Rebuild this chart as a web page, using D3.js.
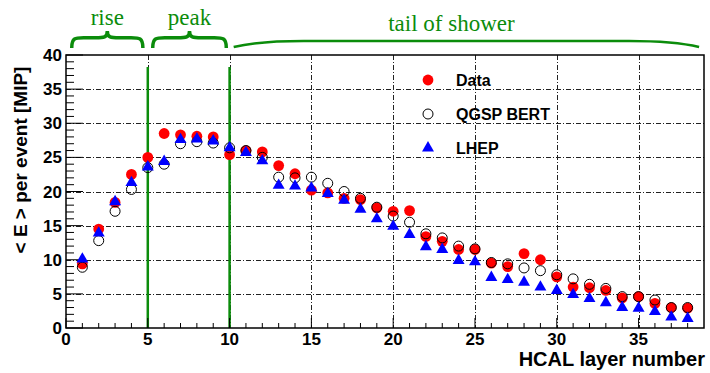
<!DOCTYPE html>
<html>
<head>
<meta charset="utf-8">
<script src="https://cdn.jsdelivr.net/npm/d3@7"></script>
<style>
  body { margin: 0; background: #fff; }
  text { font-family: "Liberation Sans", Arial, sans-serif; }
  text.serif { font-family: "Liberation Serif", "Times New Roman", serif; }
</style>
</head>
<body>
<div id="chart"></div>
<script>
// HCAL layer numbers 1..38
const layers = d3.range(1, 39)
const dataE = [9.4, 14.5, 18.4, 22.5, 25.0, 28.5, 28.3, 28.1, 28.0, 25.4,
  26.0, 25.8, 23.8, 22.6, 20.2, 19.8, 19.0, 18.8, 17.6, 17.1,
  17.2, 13.4, 12.7, 11.5, 11.5, 9.5, 9.0, 10.9, 10.0, 7.5,
  6.0, 5.9, 5.5, 4.4, 4.6, 3.6, 3.0, 2.9]
const qgspE = [8.9, 12.8, 17.1, 20.3, 23.5, 24.0, 27.0, 27.3, 27.1, 26.4,
  26.0, 25.0, 22.1, 22.0, 22.1, 21.2, 20.0, 19.0, 17.7, 16.4,
  15.5, 13.8, 13.2, 12.0, 11.6, 9.6, 9.4, 8.8, 8.4, 7.8,
  7.2, 6.4, 5.8, 4.6, 4.6, 4.1, 3.0, 3.0]
const lhepE = [10.1, 13.9, 18.5, 21.3, 23.6, 24.4, 27.6, 27.7, 27.4, 26.4,
  25.7, 24.5, 20.9, 20.8, 20.5, 19.7, 18.7, 17.4, 16.0, 14.9,
  13.7, 11.9, 11.5, 9.9, 9.7, 7.4, 7.1, 6.7, 6.0, 5.5,
  4.9, 4.3, 3.7, 3.0, 2.9, 2.4, 1.6, 1.4]
const xTicks = [0, 5, 10, 15, 20, 25, 30, 35]
const yTicks = [0, 5, 10, 15, 20, 25, 30, 35, 40]
const regionLabels = ["rise", "peak", "tail of shower"]
const regionFrom = [0.35, 5.3, 10.25]
const regionTo = [4.7, 9.8, 38.7]
const regionEdges = [5, 10]

const width = 710
const height = 373
const margin = { top: 55, left: 66, bottom: 45, right: 6 }
const iwidth = width - margin.left - margin.right
const iheight = height - margin.top - margin.bottom

const green = "#0b8c0b"

const svg = d3.select("#chart").append("svg")
  .attr("width", width)
  .attr("height", height)

const g = svg.append("g")
  .attr("transform", `translate(${margin.left}, ${margin.top})`)

const x = d3.scaleLinear().domain([0, 39]).range([0, iwidth])
const y = d3.scaleLinear().domain([0, 40]).range([iheight, 0])

// dash-dot grid
g.append("g")
  .selectAll("line")
  .data(xTicks.filter(d => d > 0))
  .join("line")
  .attr("x1", d => Math.round(x(d)) + 0.5)
  .attr("x2", d => Math.round(x(d)) + 0.5)
  .attr("y1", 0)
  .attr("y2", iheight)
  .attr("stroke", "#222")
  .attr("stroke-width", 1)
  .attr("stroke-dasharray", "5,2,1,2")
g.append("g")
  .selectAll("line")
  .data(yTicks.filter(d => d > 0 && d < 40))
  .join("line")
  .attr("y1", d => Math.round(y(d)) + 0.5)
  .attr("y2", d => Math.round(y(d)) + 0.5)
  .attr("x1", 0)
  .attr("x2", iwidth)
  .attr("stroke", "#222")
  .attr("stroke-width", 1)
  .attr("stroke-dasharray", "5,2,1,2")

// region separators
g.append("g")
  .selectAll("line")
  .data(regionEdges)
  .join("line")
  .attr("x1", d => x(d))
  .attr("x2", d => x(d))
  .attr("y1", 12)
  .attr("y2", iheight)
  .attr("stroke", green)
  .attr("stroke-width", 2.5)

// minor + major ticks (inside the frame)
const xMinor = d3.range(1, 39).filter(d => d % 5 !== 0)
g.append("g")
  .selectAll("line")
  .data(xMinor)
  .join("line")
  .attr("x1", d => x(d)).attr("x2", d => x(d))
  .attr("y1", iheight).attr("y2", iheight - 5)
  .attr("stroke", "#000")
g.append("g")
  .selectAll("line")
  .data(xTicks)
  .join("line")
  .attr("x1", d => x(d)).attr("x2", d => x(d))
  .attr("y1", iheight).attr("y2", iheight - 10)
  .attr("stroke", "#000")
const yMinor = d3.range(1, 40).filter(d => d % 5 !== 0)
g.append("g")
  .selectAll("line")
  .data(yMinor)
  .join("line")
  .attr("y1", d => y(d)).attr("y2", d => y(d))
  .attr("x1", 0).attr("x2", 8)
  .attr("stroke", "#000")
g.append("g")
  .selectAll("line")
  .data(yTicks)
  .join("line")
  .attr("y1", d => y(d)).attr("y2", d => y(d))
  .attr("x1", 0).attr("x2", 17)
  .attr("stroke", "#000")

// frame
g.append("rect")
  .attr("x", 0).attr("y", 0)
  .attr("width", iwidth).attr("height", iheight)
  .attr("fill", "none")
  .attr("stroke", "#000")
  .attr("stroke-width", 1.5)

// tick labels
g.append("g")
  .selectAll("text")
  .data(xTicks)
  .join("text")
  .attr("x", d => x(d))
  .attr("y", iheight + 17)
  .attr("text-anchor", "middle")
  .attr("font-size", 17)
  .attr("font-weight", "bold")
  .text(d => d)
g.append("g")
  .selectAll("text")
  .data(yTicks)
  .join("text")
  .attr("x", -4)
  .attr("y", d => y(d))
  .attr("dy", "0.36em")
  .attr("text-anchor", "end")
  .attr("font-size", 17)
  .attr("font-weight", "bold")
  .text(d => d)

// axis titles
svg.append("text")
  .attr("x", width - 5)
  .attr("y", 366)
  .attr("text-anchor", "end")
  .attr("font-size", 20)
  .attr("font-weight", "bold")
  .text("HCAL layer number")
svg.append("text")
  .attr("transform", `translate(27, 160) rotate(-90)`)
  .attr("text-anchor", "middle")
  .attr("font-size", 19)
  .attr("font-weight", "bold")
  .text("< E > per event [MIP]")

// markers
const tri = d3.symbol().type(d3.symbolTriangle).size(62)
const marks = g.append("g")
marks.selectAll("circle.data")
  .data(layers)
  .join("circle")
  .attr("class", "data")
  .attr("cx", d => x(d))
  .attr("cy", (d, i) => y(dataE[i]))
  .attr("r", 5.4)
  .attr("fill", "#ff0000")
marks.selectAll("circle.qgsp")
  .data(layers)
  .join("circle")
  .attr("class", "qgsp")
  .attr("cx", d => x(d))
  .attr("cy", (d, i) => y(qgspE[i]))
  .attr("r", 5)
  .attr("fill", "none")
  .attr("stroke", "#000")
  .attr("stroke-width", 1)
marks.selectAll("path.lhep")
  .data(layers)
  .join("path")
  .attr("class", "lhep")
  .attr("transform", (d, i) => `translate(${x(d)}, ${y(lhepE[i])})`)
  .attr("d", tri)
  .attr("fill", "#0000ff")

// legend
const legendItems = ["Data", "QGSP BERT", "LHEP"]
const legend = svg.append("g")
  .selectAll("g")
  .data(legendItems)
  .join("g")
  .attr("transform", (d, i) => `translate(428, ${80 + i * 34})`)
legend.append("text")
  .attr("x", 28)
  .attr("dy", "0.36em")
  .attr("font-size", 16)
  .attr("font-weight", "bold")
  .text(d => d)
legend.filter((d, i) => i === 0).append("circle")
  .attr("r", 5.4).attr("fill", "#ff0000")
legend.filter((d, i) => i === 1).append("circle")
  .attr("r", 5).attr("fill", "none").attr("stroke", "#000")
legend.filter((d, i) => i === 2).append("path")
  .attr("d", tri).attr("fill", "#0000ff")

// curly braces above the regions
function brace(x1, x2, yb, h) {
  const xm = (x1 + x2) / 2
  const q = Math.min(12, (x2 - x1) / 6)
  const ym = yb - h * 0.6
  return `M${x1},${yb} C${x1},${ym} ${x1 + q * 0.3},${ym} ${x1 + q},${ym}` +
    ` L${xm - q},${ym} C${xm - q * 0.3},${ym} ${xm},${ym} ${xm},${yb - h}` +
    ` C${xm},${ym} ${xm + q * 0.3},${ym} ${xm + q},${ym}` +
    ` L${x2 - q},${ym} C${x2 - q * 0.3},${ym} ${x2},${ym} ${x2},${yb}`
}
const braces = svg.append("g")
braces.selectAll("path")
  .data([0, 1])
  .join("path")
  .attr("d", i => brace(margin.left + x(regionFrom[i]), margin.left + x(regionTo[i]), 48, 17))
  .attr("fill", "none")
  .attr("stroke", green)
  .attr("stroke-width", 3.5)
const tx1 = margin.left + x(regionFrom[2])
const tx2 = margin.left + x(regionTo[2])
braces.append("path")
  .attr("d", `M${tx1},${47} Q${tx1 + 25},${41} ${tx1 + 70},${41} L${tx2 - 70},${41} Q${tx2 - 25},${41} ${tx2},${47}`)
  .attr("fill", "none")
  .attr("stroke", green)
  .attr("stroke-width", 2.5)
braces.selectAll("text")
  .data(regionLabels)
  .join("text")
  .attr("class", "serif")
  .attr("x", (d, i) => margin.left + x((regionFrom[i] + regionTo[i]) / 2) - (i === 2 ? 15 : 0))
  .attr("y", (d, i) => i === 2 ? 31 : 25)
  .attr("text-anchor", "middle")
  .attr("font-size", 23)
  .attr("fill", green)
  .text(d => d)
</script>
</body>
</html>
